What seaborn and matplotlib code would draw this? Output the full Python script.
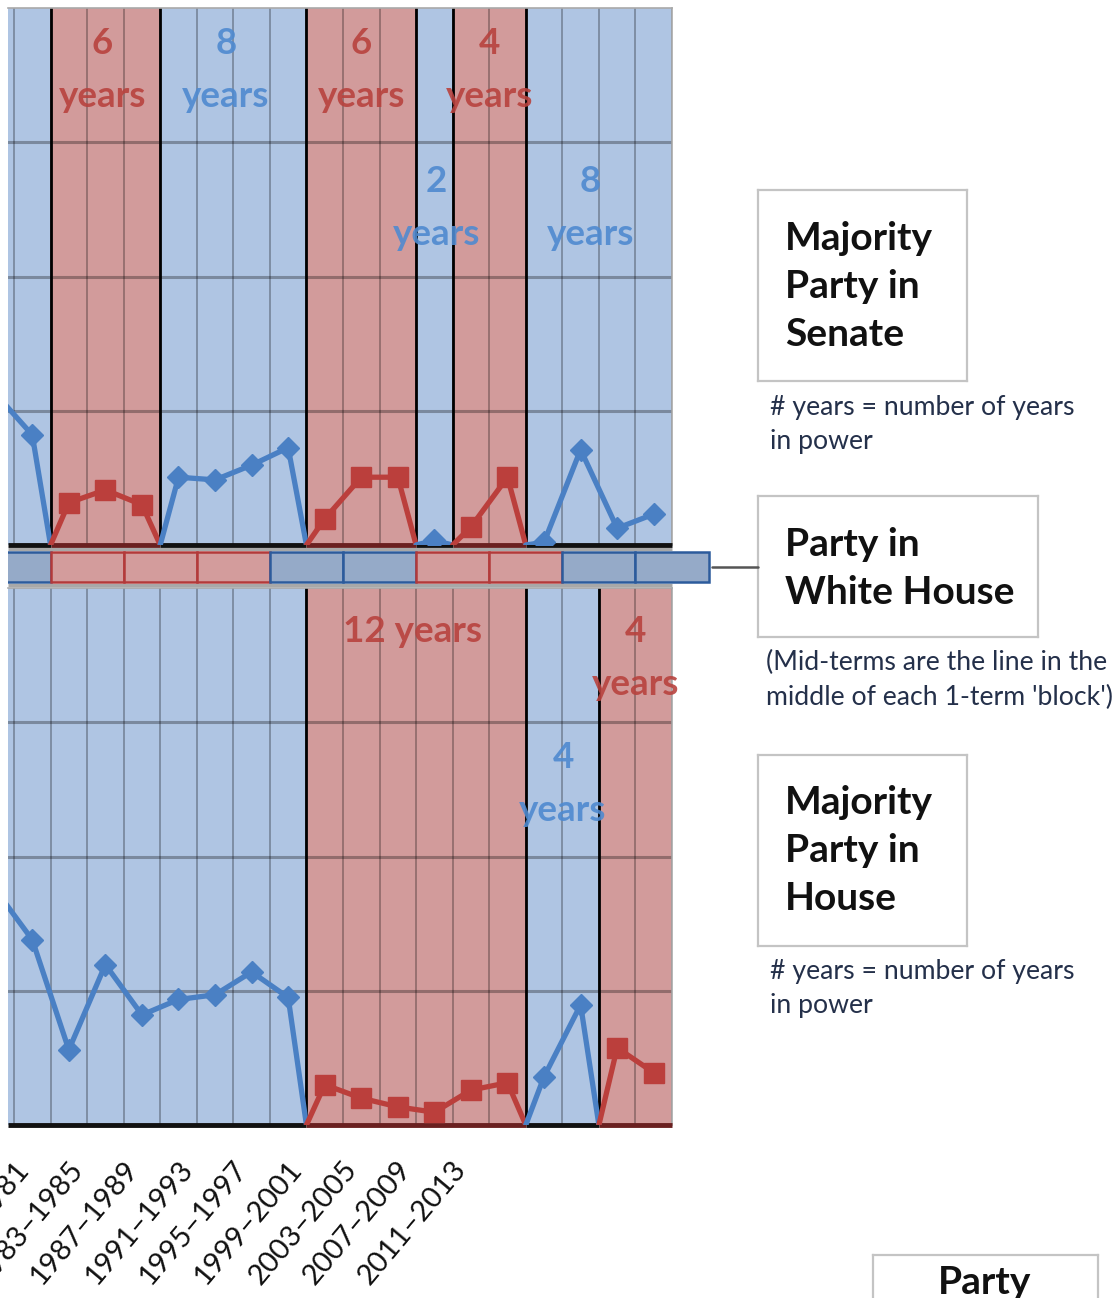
import numpy as np
import pandas as pd
import seaborn as sns
import matplotlib.pyplot as plt
from matplotlib.lines import Line2D

# basic style
sns.set_style("white")
plt.rcParams['font.family'] = ['Lato', 'DejaVu Sans']

W, H = 1118, 1298

# one entry per 2-year Congress, 1977-1979 ... 2013-2015
senate_party = list("DDRRRDDDDRRRDRRDDDD")
senate_margin = [22.5, 16.4, 6.3, 8.2, 6.0, 10.1, 9.7, 11.9, 14.5, 3.9,
                 10.1, 10.1, 0.7, 2.7, 10.1, 0.4, 14.2, 2.5, 4.6]
house_party = list("DDDDDDDDDRRRRRRDDRR")
house_margin = [35.0, 27.6, 11.2, 23.9, 16.4, 18.7, 19.4, 22.8, 19.0, 6.0,
                4.0, 2.7, 1.9, 5.2, 6.3, 7.2, 17.9, 11.5, 7.8]

# party in the White House, one entry per 4-year term from 1977
wh_party = list("DRRRDDRRDD")

# "# years" annotations (x in Congress index, y in margin units)
senate_num = ["6", "8", "6", "4", "2", "8"]
senate_num_party = ["R", "D", "R", "R", "D", "D"]
senate_num_x = [2.92, 6.3, 10.0, 13.5, 12.05, 16.27]
senate_num_y = [74.7, 74.7, 74.7, 74.7, 54.2, 54.2]

house_num = ["4", "4"]
house_num_party = ["R", "D"]
house_num_x = [17.5, 15.52]
house_num_y = [73.5, 54.8]
house_long = "12 years"
house_long_x, house_long_y = 11.39, 73.5

tick_labels = ["1979–1981", "1983–1985", "1987–1989", "1991–1993", "1995–1997",
               "1999–2001", "2003–2005", "2007–2009", "2011–2013"]

FILL = {'D': '#afc5e3', 'R': '#d29b9b'}
LINE = {'D': '#4a80c4', 'R': '#bb3f3c'}
BASE = {'D': '#111111', 'R': '#6a2020'}
MARK = {'D': 'D', 'R': 's'}
MSIZE = {'D': 11, 'R': 15}
WH_FILL = {'D': '#95aac8', 'R': '#d39c9c'}
WH_EDGE = {'D': '#2c5b9c', 'R': '#b33a3a'}
TXT = {'D': '#4f8ad0', 'R': '#b8423e'}

XLIM = (0.336, 18.5)


def px_axes(fig, x0, y0, x1, y1):
    return fig.add_axes([x0 / W, 1 - y1 / H, (x1 - x0) / W, (y1 - y0) / H])


def party_runs(party):
    runs, start = [], 0
    for i in range(1, len(party) + 1):
        if i == len(party) or party[i] != party[start]:
            runs.append((start, i - 1, party[start]))
            start = i
    return runs


def draw_panel(ax, party, margin):
    n = len(party)
    runs = party_runs(party)

    for a, b, p in runs:
        ax.axvspan(a - 0.5, b + 0.5, color=FILL[p], lw=0, zorder=0)

    # gridlines
    for v in (20, 40, 60):
        ax.axhline(v, color='black', alpha=0.3, lw=2.2, zorder=1)
    for i in range(n):
        ax.axvline(i + 0.5, color='black', alpha=0.28, lw=1.4, zorder=1)

    # party switch lines
    for a, b, p in runs[1:]:
        ax.axvline(a - 0.5, color='black', lw=2, zorder=2)

    # base line
    for a, b, p in runs:
        ax.hlines(0, max(a - 0.5, XLIM[0]), b + 0.5, color=BASE[p], lw=3.5,
                  zorder=3, clip_on=False)

    # margin lines, dropping to zero at every change of majority
    for a, b, p in runs:
        xs = list(range(a, b + 1))
        ys = list(margin[a:b + 1])
        if a > 0:
            xs, ys = [a - 0.5] + xs, [0] + ys
        if b < n - 1:
            xs, ys = xs + [b + 0.5], ys + [0]
        df = pd.DataFrame({'x': xs, 'y': ys})
        sns.lineplot(data=df, x='x', y='y', ax=ax, color=LINE[p], lw=3.8,
                     sort=False, estimator=None, zorder=4)
        ax.plot(range(a, b + 1), margin[a:b + 1], ls='none', marker=MARK[p],
                ms=MSIZE[p], color=LINE[p], mec=LINE[p], zorder=5)

    ax.set_xlim(*XLIM)
    ax.set_ylim(0, 80)
    ax.set_xticks([])
    ax.set_yticks([])
    ax.set_xlabel('')
    ax.set_ylabel('')
    for side in ('left', 'bottom'):
        ax.spines[side].set_visible(False)
    for side in ('top', 'right'):
        ax.spines[side].set_color('#a9a9a9')
        ax.spines[side].set_linewidth(1.2)


fig = plt.figure(figsize=(W / 100, H / 100), dpi=100)

# Senate
ax_s = px_axes(fig, 8, 8, 672, 545)
draw_panel(ax_s, senate_party, senate_margin)
for t, p, x, y in zip(senate_num, senate_num_party, senate_num_x, senate_num_y):
    ax_s.text(x, y, t, color=TXT[p], fontsize=26.5, fontweight='bold',
              ha='center', va='center', zorder=6, alpha=0.9)
    ax_s.text(x, y - 7.9, "years", color=TXT[p], fontsize=26.5, fontweight='bold',
              ha='center', va='center', zorder=6, alpha=0.9)

# House
ax_h = px_axes(fig, 8, 588, 672, 1125)
draw_panel(ax_h, house_party, house_margin)
for t, p, x, y in zip(house_num, house_num_party, house_num_x, house_num_y):
    ax_h.text(x, y, t, color=TXT[p], fontsize=26.5, fontweight='bold',
              ha='center', va='center', zorder=6, alpha=0.9)
    ax_h.text(x, y - 7.9, "years", color=TXT[p], fontsize=26.5, fontweight='bold',
              ha='center', va='center', zorder=6, alpha=0.9)
ax_h.text(house_long_x, house_long_y, house_long, color=TXT['R'], fontsize=26.5,
          fontweight='bold', ha='center', va='center', zorder=6, alpha=0.9)

# White House strip (one block per 4-year term)
ax_w = px_axes(fig, 8, 549, 712, 585)
wh_right = XLIM[1] + (712 - 672) / 36.56
for t, p in enumerate(wh_party):
    ax_w.barh(0, 2, left=2 * t - 0.5, height=0.83, color=WH_FILL[p],
              edgecolor=WH_EDGE[p], lw=1.8, zorder=2)
ax_w.hlines([-0.5, 0.5], XLIM[0], XLIM[1], color='#a8a8a8', lw=2.2, clip_on=False)
ax_w.set_xlim(XLIM[0], wh_right)
ax_w.set_ylim(-0.5, 0.5)
ax_w.axis('off')

# connector to the White House box
fig.add_artist(Line2D([712 / W, 758 / W], [1 - 567 / H] * 2,
                      transform=fig.transFigure, color='#555555', lw=1.8))

# x labels (own spacing, as in the original sheet)
ax_l = px_axes(fig, 14, 1146, 451, 1156)
ax_l.set_xlim(0, len(tick_labels) - 1)
ax_l.set_xticks(range(len(tick_labels)))
ax_l.set_xticklabels(tick_labels, rotation=50, ha='right', rotation_mode='anchor',
                     fontsize=21, color='#111111')
ax_l.tick_params(axis='x', length=0, pad=0)
ax_l.set_yticks([])
ax_l.set_frame_on(False)


def note_box(x0, y0, x1, y1, lines, tx, ty, ha='left'):
    bx = px_axes(fig, x0, y0, x1, y1)
    bx.set_xlim(x0, x1)
    bx.set_ylim(y1, y0)
    bx.set_xticks([])
    bx.set_yticks([])
    for sp in bx.spines.values():
        sp.set_color('#c4c4c4')
        sp.set_linewidth(1.6)
    for line, y in zip(lines, ty):
        bx.text(tx, y, line, fontsize=28, fontweight='bold', color='#111111',
                ha=ha, va='center')
    return bx


note_box(758, 190, 967, 381, ["Majority", "Party in", "Senate"], 785, [238, 286, 334])
note_box(758, 496, 1038, 637, ["Party in", "White House"], 785, [545, 592])
note_box(758, 755, 967, 946, ["Majority", "Party in", "House"], 785, [803, 851, 899])
note_box(873, 1255, 1098, 1330, ["Party"], 985, [1283], ha='center')

note_kw = dict(fontsize=19.2, color='#24304a', va='center', ha='left')
fig.text(770 / W, 1 - 407 / H, "# years = number of years", **note_kw)
fig.text(770 / W, 1 - 441 / H, "in power", **note_kw)
fig.text(766 / W, 1 - 662 / H, "(Mid-terms are the line in the", **note_kw)
fig.text(766 / W, 1 - 697 / H, "middle of each 1-term 'block')", **note_kw)
fig.text(770 / W, 1 - 971 / H, "# years = number of years", **note_kw)
fig.text(770 / W, 1 - 1006 / H, "in power", **note_kw)

plt.savefig("out.png", dpi=100)
plt.close(fig)
